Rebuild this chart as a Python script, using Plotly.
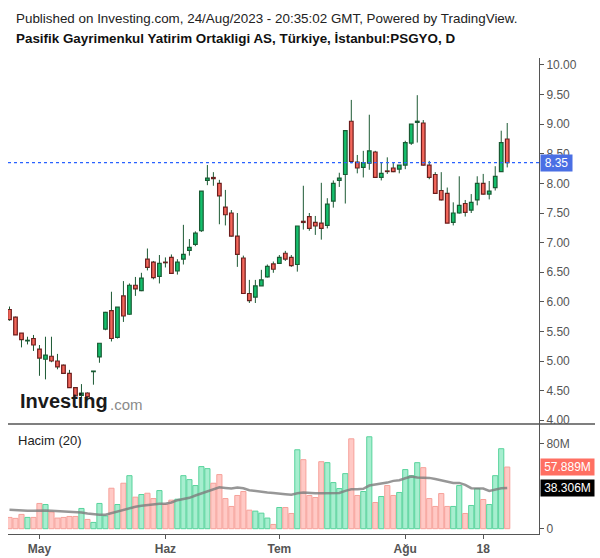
import plotly.graph_objects as go

# ---- data ----
bar_index = list(range(84))
opens = [5.87, 5.74, 5.47, 5.34, 5.38, 5.20, 5.03, 5.08, 5.00, 4.93,
         4.79, 4.55, 4.42, 4.46, 4.82, 5.07, 5.54, 5.85, 5.40, 6.10,
         5.79, 6.28, 6.19, 6.72, 6.67, 6.43, 6.67, 6.75, 6.52, 6.72,
         6.87, 6.97, 7.20, 8.05, 8.10, 8.00, 7.60, 7.50, 7.11, 6.74,
         6.14, 6.08, 6.27, 6.42, 6.64, 6.65, 6.82, 6.75, 6.63, 7.36,
         7.44, 7.34, 7.33, 7.29, 7.70, 8.05, 8.15, 9.05, 8.36, 8.27,
         8.34, 8.53, 8.10, 8.21, 8.26, 8.24, 8.31, 8.68, 9.03, 9.02,
         8.31, 8.15, 7.88, 7.83, 7.34, 7.50, 7.66, 7.55, 7.72, 8.00,
         7.82, 7.93, 8.20, 8.75]
highs = [5.92, 5.75, 5.47, 5.41, 5.44, 5.27, 5.41, 5.41, 5.12, 4.94,
         4.85, 4.56, 4.61, 4.47, 4.83, 5.30, 5.83, 6.17, 5.91, 6.35,
         6.31, 6.42, 6.49, 6.90, 6.69, 6.79, 6.75, 6.80, 6.72, 7.30,
         7.06, 7.19, 7.87, 8.31, 8.19, 8.06, 7.89, 7.55, 7.50, 6.78,
         6.37, 6.37, 6.54, 6.63, 6.68, 6.79, 6.86, 6.79, 7.28, 7.96,
         7.50, 7.45, 8.01, 7.75, 8.05, 8.18, 8.90, 9.41, 8.48, 8.55,
         9.16, 8.55, 8.35, 8.44, 8.35, 8.31, 8.72, 9.00, 9.49, 9.07,
         8.38, 8.19, 8.19, 7.93, 7.68, 8.12, 7.72, 7.82, 8.12, 8.16,
         8.04, 8.29, 8.89, 9.02]
lows = [5.68, 5.44, 5.23, 5.28, 5.17, 4.75, 4.69, 4.98, 4.86, 4.78,
        4.55, 4.41, 4.38, 4.36, 4.60, 4.97, 5.52, 5.33, 5.38, 5.66,
        5.78, 6.10, 6.18, 6.53, 6.38, 6.31, 6.58, 6.48, 6.46, 6.63,
        6.78, 6.94, 7.18, 7.97, 7.96, 7.31, 7.29, 7.10, 6.59, 6.14,
        5.98, 5.98, 6.27, 6.41, 6.49, 6.64, 6.69, 6.59, 6.51, 7.22,
        7.20, 7.13, 7.05, 7.24, 7.59, 7.94, 7.66, 8.34, 8.17, 8.10,
        8.23, 8.10, 8.05, 8.16, 8.19, 8.17, 8.24, 8.65, 8.69, 8.30,
        8.07, 7.83, 7.71, 7.33, 7.29, 7.49, 7.44, 7.50, 7.63, 7.81,
        7.73, 7.88, 8.20, 8.27]
closes = [5.70, 5.44, 5.36, 5.35, 5.27, 5.05, 5.10, 5.00, 4.90, 4.79,
          4.55, 4.41, 4.46, 4.40, 4.83, 5.30, 5.82, 5.38, 5.91, 5.76,
          6.28, 6.22, 6.40, 6.58, 6.41, 6.65, 6.66, 6.48, 6.67, 6.80,
          6.92, 7.16, 7.87, 8.09, 8.08, 7.79, 7.47, 7.11, 6.80, 6.14,
          6.02, 6.27, 6.37, 6.60, 6.55, 6.75, 6.72, 6.61, 7.28, 7.34,
          7.24, 7.28, 7.24, 7.65, 8.00, 8.09, 8.89, 8.37, 8.26, 8.35,
          8.55, 8.10, 8.17, 8.20, 8.20, 8.31, 8.69, 9.00, 9.05, 8.31,
          8.10, 7.83, 7.72, 7.33, 7.50, 7.63, 7.51, 7.68, 8.00, 7.82,
          7.87, 8.12, 8.69, 8.35]
volumes_m = [10.6, 9.7, 13.4, 10.6, 10.6, 23.7, 22.7, 15.6, 10.0, 10.6,
             11.5, 11.5, 19.0, 8.7, 5.9, 23.7, 12.0, 38.0, 22.7, 42.7,
             49.8, 29.6, 32.1, 33.3, 28.3, 35.8, 22.7, 26.8, 27.7, 49.8,
             46.1, 40.5, 58.3, 56.4, 42.7, 50.8, 28.3, 20.9, 31.2, 34.9,
             17.4, 16.5, 14.6, 10.0, 4.0, 19.9, 19.9, 14.3, 74.1, 64.8,
             31.2, 29.3, 62.9, 62.0, 43.3, 37.7, 51.7, 84.4, 31.2, 34.9,
             86.3, 24.6, 30.2, 40.5, 31.2, 34.0, 55.5, 49.8, 62.0, 57.3,
             28.3, 20.9, 33.0, 20.9, 20.9, 40.5, 14.3, 21.8, 37.7, 27.4,
             22.7, 49.8, 75.1, 57.889]
vol_ma_m = [17.8, 17.4, 16.8, 16.8, 16.8, 17.1, 17.1, 16.8, 16.5, 16.2,
            16.2, 15.9, 15.3, 14.3, 13.4, 13.1, 13.1, 14.6, 16.2, 17.4,
            19.6, 20.6, 21.5, 22.1, 23.1, 23.4, 23.4, 24.6, 26.8, 28.0,
            29.0, 31.2, 33.3, 35.2, 37.4, 38.9, 38.3, 37.7, 38.6, 38.0,
            36.1, 35.2, 34.6, 34.0, 33.6, 32.7, 32.4, 31.8, 33.3, 34.0,
            33.3, 33.3, 33.3, 33.3, 33.3, 33.6, 35.5, 37.1, 37.1, 37.4,
            40.5, 41.4, 41.7, 43.3, 44.9, 45.5, 47.4, 48.9, 48.0, 48.0,
            47.7, 46.7, 45.5, 44.2, 43.0, 43.0, 41.1, 38.0, 38.0, 37.7,
            35.5, 36.8, 38.0, 38.306]
tick_index = [5, 26, 45, 66, 79]
tick_labels = ["May", "Haz", "Tem", "Ağu", "18"]
price_ticks = [4.0, 4.5, 5.0, 5.5, 6.0, 6.5, 7.0, 7.5, 8.0, 8.5, 9.0, 9.5, 10.0]
last_price = 8.35
last_volume_m = 57.889
last_ma_m = 38.306

FONT = "Liberation Sans, Arial, sans-serif"
up = [c >= o for o, c in zip(opens, closes)]

# wicks: segments below and above the body
wx, wy = [], []
for i, o, h, l, c in zip(bar_index, opens, highs, lows, closes):
    lo, hi = min(o, c), max(o, c)
    wx += [i, i, None, i, i, None]
    wy += [l, lo, None, hi, h, None]

fig = go.Figure()
fig.add_trace(go.Scatter(x=wx, y=wy, mode="lines", line=dict(color="#1d5a35", width=1),
                         yaxis="y", xaxis="x", hoverinfo="skip", showlegend=False))
fig.add_trace(go.Bar(
    x=bar_index,
    base=[min(o, c) for o, c in zip(opens, closes)],
    y=[abs(c - o) for o, c in zip(opens, closes)],
    width=0.6,
    marker=dict(color=["#14bf6c" if u else "#f3675b" for u in up],
                line=dict(color=["#185a33" if u else "#6e1c1c" for u in up], width=1.2)),
    yaxis="y", xaxis="x", showlegend=False))

fig.add_trace(go.Bar(
    x=bar_index, y=[v * 1e6 for v in volumes_m], width=0.86,
    marker=dict(color=["#a6eecf" if u else "#ffc9c5" for u in up],
                line=dict(color=["#58d39c" if u else "#f6a19a" for u in up], width=1)),
    yaxis="y2", xaxis="x", showlegend=False))
fig.add_trace(go.Scatter(x=bar_index, y=[v * 1e6 for v in vol_ma_m], mode="lines",
                         line=dict(color="rgba(125,125,125,0.8)", width=2.5),
                         yaxis="y2", xaxis="x", showlegend=False))

# geometry helpers (pixels -> paper)
L, R, T, B = 8, 61, 58, 24
PW, PH = 600 - L - R, 558 - T - B
def px(x):
    return (x - L) / PW
def py(y):
    return (558 - B - y) / PH
split = py(424)

axis_common = dict(showgrid=False, zeroline=False, showline=True, linecolor="#555",
                   linewidth=1, ticks="outside", ticklen=4, tickcolor="#555",
                   automargin=False)
fig.update_layout(
    width=600, height=558, margin=dict(l=L, r=R, t=T, b=B, autoexpand=False),
    paper_bgcolor="white", plot_bgcolor="white", barmode="overlay",
    font=dict(family=FONT, color="#222"),
    xaxis=dict(range=[-0.25, 88.3], anchor="y2", tickvals=tick_index,
               ticktext=["<b>%s</b>" % t for t in tick_labels],
               tickfont=dict(size=12, color="#555"), **axis_common),
    yaxis=dict(domain=[split, 1], side="right", anchor="x", range=[3.936, 10.118],
               tickvals=price_ticks, ticktext=["%.2f" % v for v in price_ticks],
               tickfont=dict(size=12, color="#555"), **axis_common),
    yaxis2=dict(domain=[0, split], side="right", anchor="x", range=[-4.98e6, 98.3e6],
                tickvals=[0, 80e6], ticktext=["0", "80M"],
                tickfont=dict(size=12, color="#555"), **axis_common),
    hovermode=False,
)

fig.add_shape(type="line", xref="paper", yref="paper", x0=0, x1=px(595), y0=split, y1=split,
              line=dict(color="#555", width=1.5))
fig.add_shape(type="line", xref="paper", yref="y", x0=0, x1=1, y0=last_price, y1=last_price,
              line=dict(color="#2962ff", width=1.2, dash="dot"))

ann = [
    dict(text="Published on Investing.com, 24/Aug/2023 - 20:35:02 GMT, Powered by TradingView.",
         x=px(14), y=py(18), font=dict(size=13.4, color="#222")),
    dict(text="<b>Pasifik Gayrimenkul Yatirim Ortakligi AS, Türkiye, İstanbul:PSGYO, D</b>",
         x=px(14), y=py(39), font=dict(size=13.4, color="#111")),
    dict(text="<b>Investing</b>", x=px(18), y=py(401), font=dict(size=20, color="#1a1a1a")),
    dict(text=".com", x=px(108), y=py(404), font=dict(size=15, color="#8a8a8a")),
    dict(text="Hacim (20)", x=px(16), y=py(440), font=dict(size=13, color="#222")),
]
for a in ann:
    fig.add_annotation(xref="paper", yref="paper", xanchor="left", yanchor="middle",
                       showarrow=False, font_family=FONT, **{k: v for k, v in a.items()})

tags = [
    dict(text="%.2f" % last_price, yref="y", y=last_price, bgcolor="#4a6fe4", width=29),
    dict(text="%.3fM" % last_volume_m, yref="y2", y=last_volume_m * 1e6, bgcolor="#ff6f62", width=51),
    dict(text="%.3fM" % last_ma_m, yref="y2", y=last_ma_m * 1e6, bgcolor="#000000", width=51),
]
for t in tags:
    fig.add_annotation(xref="paper", x=px(540), xanchor="left", yanchor="middle",
                       showarrow=False, borderpad=1, align="center",
                       font=dict(family=FONT, size=12, color="white"), **t)

fig.write_html("out.html", config={"displayModeBar": False},
               post_script="document.body.style.margin='0px';")
